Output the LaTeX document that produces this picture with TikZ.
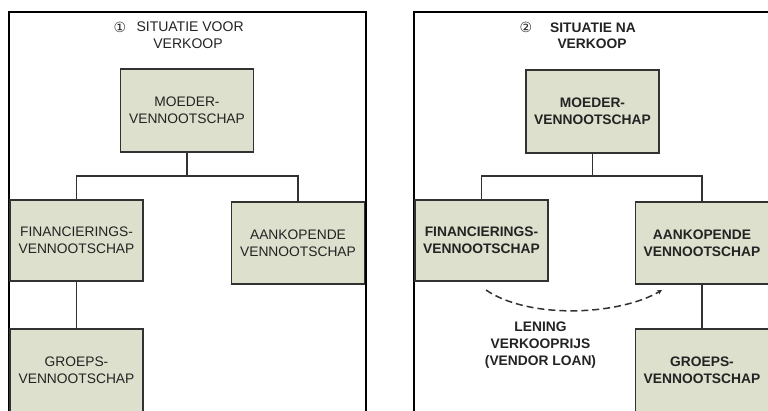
\documentclass[tikz,border=0pt]{standalone}
\usepackage{fontspec}
\setmainfont{Liberation Sans}
\newfontfamily\symf{DejaVu Sans}
\usetikzlibrary{arrows.meta}
\definecolor{boxfill}{RGB}{221,224,204}
\definecolor{boxline}{RGB}{50,50,50}
\definecolor{txt}{RGB}{35,35,35}
\tikzset{
  orgbox/.style={draw=boxline, fill=boxfill, line width=1.6pt, minimum width=133pt,
    minimum height=82pt, align=center, inner sep=0pt, text=txt},
  lefttxt/.style={font=\fontsize{13.8}{17}\selectfont},
  righttxt/.style={font=\fontsize{13.8}{17}\selectfont\bfseries},
  numtxt/.style={text=txt, font=\symf\fontsize{14}{14}\selectfont, inner sep=0pt},
  frame/.style={draw=black, line width=1.3pt},
  link/.style={draw=boxline, line width=1.9pt},
  loan/.style={draw=boxline, line width=1.5pt, dash pattern=on 7pt off 4pt,
    -{Stealth[length=5pt,width=5pt]}},
}
\begin{document}
\begin{tikzpicture}[x=1pt,y=-1pt]
\useasboundingbox (0,0) rectangle (768,410);
\clip (0,0) rectangle (768,410);
% frames
\draw[frame] (9,440) -- (9,12) -- (366,12) -- (366,440);
\draw[frame] (414,440) -- (414,12) -- (790,12);
% left titles
\node[numtxt] (c1) at (120,27) {①};
\node[text=txt, anchor=base west, font=\fontsize{14}{17}\selectfont] (t1) at (133,31) {SITUATIE VOOR};
\node[text=txt, anchor=base, font=\fontsize{14}{17}\selectfont] (t1b) at (188,48) {VERKOOP};
% right titles
\node[numtxt] (c2) at (526,27) {②};
\node[righttxt, text=txt, anchor=base] (t2) at (593,32) {SITUATIE NA};
\node[righttxt, text=txt, anchor=base] (t2b) at (592,48) {VERKOOP};
% left boxes
\node[orgbox, lefttxt, minimum height=83pt] (mL) at (187,110.5) {MOEDER-\\VENNOOTSCHAP};
\node[orgbox, lefttxt, minimum height=81pt] (fL) at (76.5,240.5) {FINANCIERINGS-\\VENNOOTSCHAP};
\node[orgbox, lefttxt] (aL) at (298,243) {AANKOPENDE\\VENNOOTSCHAP};
\node[orgbox, lefttxt, minimum height=83pt] (gL) at (76.5,370.5) {GROEPS-\\VENNOOTSCHAP};
% right boxes
\node[orgbox, righttxt, minimum height=83pt] (mR) at (592.5,111.5) {MOEDER-\\VENNOOTSCHAP};
\node[orgbox, righttxt, minimum height=81pt] (fR) at (481.5,240.5) {FINANCIERINGS-\\VENNOOTSCHAP};
\node[orgbox, righttxt] (aR) at (702,243) {AANKOPENDE\\VENNOOTSCHAP};
\node[orgbox, righttxt, minimum height=83pt] (gR) at (702,370.5) {GROEPS-\\VENNOOTSCHAP};
% left connectors
\draw[link] (mL.south) -- ++(0,23) -| (fL.north);
\draw[link] (mL.south) -- ++(0,23) -| (aL.north);
\draw[link] (fL.south) -- (gL.north);
% right connectors
\draw[link] (mR.south) -- ++(0,22) -| (fR.north);
\draw[link] (mR.south) -- ++(0,22) -| (aR.north);
\draw[link] (aR.south) -- (gR.north);
% vendor loan
\coordinate (ls) at (486,290);
\coordinate (le) at (662,290);
\draw[loan] (ls) .. controls (530,320) and (620,315) .. (le);
\node[righttxt, text=txt, align=center, anchor=north] (lab) at (540.5,318) {LENING\\VERKOOPRIJS\\(VENDOR LOAN)};
\end{tikzpicture}
\end{document}
